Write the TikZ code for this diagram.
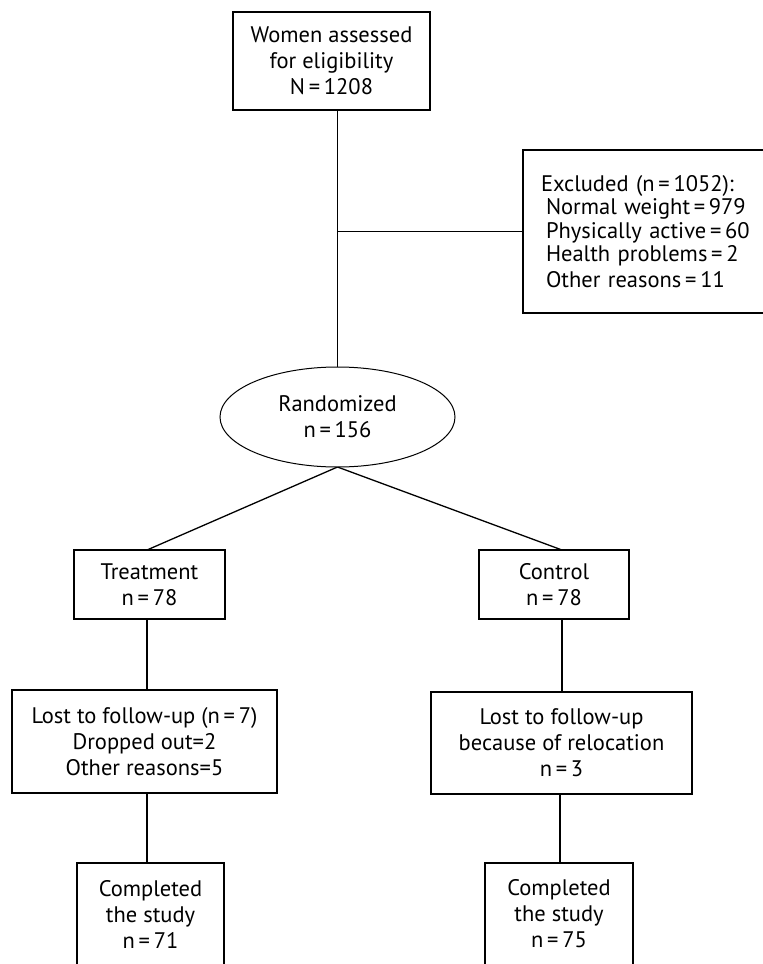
\documentclass[tikz,border=0pt]{standalone}
\usepackage{fontspec}
\setmainfont{PT Sans}
\usetikzlibrary{shapes.geometric}
\begin{document}
\begin{tikzpicture}[x=1pt,y=-1pt,
  every node/.style={font=\fontsize{22.5}{26}\selectfont, align=center, inner sep=0pt, outer sep=0pt},
  rbox/.style={draw, line width=1.3pt, rectangle},
  link/.style={draw, line width=1.3pt}]
\useasboundingbox (0,0) rectangle (763,964);
% boxes
\node[rbox, minimum width=197pt, minimum height=98pt] (top) at (331.5,61) {Women assessed\\for eligibility\\N\,=\,1208};
\node[rbox, minimum width=245pt, minimum height=163pt, align=left, text width=209pt] (excl) at (645.5,231.5)
  {\fontsize{22.5}{23.5}\selectfont Excluded (n\,=\,1052):\\
   \hspace*{5pt}Normal weight\,=\,979\\
   \hspace*{5pt}Physically active\,=\,60\\
   \hspace*{5pt}Health problems\,=\,2\\
   \hspace*{5pt}Other reasons\,=\,11};
\node[draw, line width=1pt, ellipse, minimum width=235pt, minimum height=100pt] (rand) at (337.5,417) {Randomized\\n\,=\,156};
\node[rbox, minimum width=151pt, minimum height=69pt] (treat) at (149.5,584.5) {Treatment\\n\,=\,78};
\node[rbox, minimum width=150pt, minimum height=69pt] (ctrl) at (554,584.5) {Control\\n\,=\,78};
\node[rbox, minimum width=265pt, minimum height=103pt] (lostt) at (144.5,741.5) {Lost to follow-up (n\,=\,7)\\Dropped out=2\\Other reasons=5};
\node[rbox, minimum width=261pt, minimum height=102pt] (lostc) at (561.5,743) {Lost to follow-up\\because of relocation\\n\,=\,3};
\node[rbox, minimum width=147pt, minimum height=150pt] (compt) at (150.5,938) {};
\node[rbox, minimum width=148pt, minimum height=150pt] (compc) at (559,938) {};
\node (compttext) at (150.5,914) {Completed\\the study\\n\,=\,71};
\node (compctext) at (559,914) {Completed\\the study\\n\,=\,75};
% connectors
\coordinate (branch) at (rand.north |- excl.west);
\draw[link] (rand.north |- top.south) -- (rand.north);
\draw[link] (branch) -- (excl.west);
\draw[link] (rand.south) -- (treat.north -| 147,0);
\draw[link] (rand.south) -- (ctrl.north -| 562,0);
\draw[link] (lostt.north -| 147,0) -- (treat.south -| 147,0);
\draw[link] (lostc.north -| 562,0) -- (ctrl.south -| 562,0);
\draw[link] (lostt.south -| 147,0) -- (compt.north -| 147,0);
\draw[link] (lostc.south -| 560,0) -- (compc.north -| 560,0);
\end{tikzpicture}
\end{document}
